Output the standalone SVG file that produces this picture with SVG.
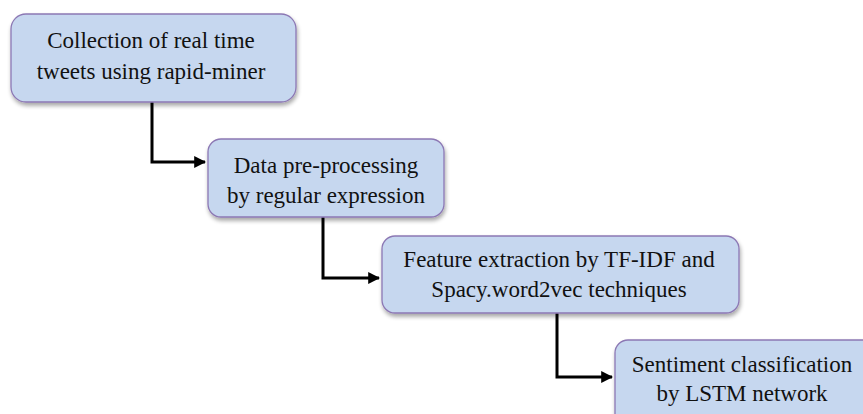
<svg xmlns="http://www.w3.org/2000/svg" width="863" height="414" viewBox="0 0 863 414">
  <defs>
    <filter id="shadow" x="-10%" y="-10%" width="120%" height="130%">
      <feGaussianBlur in="SourceAlpha" stdDeviation="2"/>
      <feOffset dx="1" dy="3" result="blur"/>
      <feComponentTransfer><feFuncA type="linear" slope="0.35"/></feComponentTransfer>
      <feMerge><feMergeNode/><feMergeNode in="SourceGraphic"/></feMerge>
    </filter>
    <marker id="arrow" viewBox="0 0 10 10" refX="9" refY="5" markerWidth="4" markerHeight="4" markerUnits="strokeWidth" orient="auto">
      <path d="M0,0 L10,5 L0,10 z" fill="#000"/>
    </marker>
  </defs>
  <style>
    .box { fill: #c6d7ef; stroke: #8c78b4; stroke-width: 1.3; filter: url(#shadow); }
    .label { font-family: "Liberation Serif", "Times New Roman", serif; font-size: 23px; fill: #111; text-anchor: middle; }
    .link { fill: none; stroke: #000; stroke-width: 3; marker-end: url(#arrow); }
  </style>
  <rect width="863" height="414" fill="#fff"/>

  <g id="connectors">
    <path class="link" d="M152,102 V162 H205"/>
    <path class="link" d="M323,217 V278 H379"/>
    <path class="link" d="M557,313 V377 H612"/>
  </g>

  <g id="collection">
    <rect class="box" x="11" y="14" width="285" height="88" rx="15"/>
    <text class="label" x="151" y="48">Collection of real time</text>
    <text class="label" x="151" y="79">tweets using rapid-miner</text>
  </g>

  <g id="preprocessing">
    <rect class="box" x="208" y="139" width="236" height="78" rx="13"/>
    <text class="label" x="326" y="173">Data pre-processing</text>
    <text class="label" x="326" y="203">by regular expression</text>
  </g>

  <g id="features">
    <rect class="box" x="382" y="236" width="357" height="77" rx="13"/>
    <text class="label" x="559" y="267">Feature extraction by TF-IDF and</text>
    <text class="label" x="559" y="297">Spacy.word2vec techniques</text>
  </g>

  <g id="classification">
    <rect class="box" x="615" y="340" width="275" height="90" rx="13"/>
    <text class="label" x="742" y="372">Sentiment classification</text>
    <text class="label" x="742" y="401">by LSTM network</text>
  </g>
</svg>
